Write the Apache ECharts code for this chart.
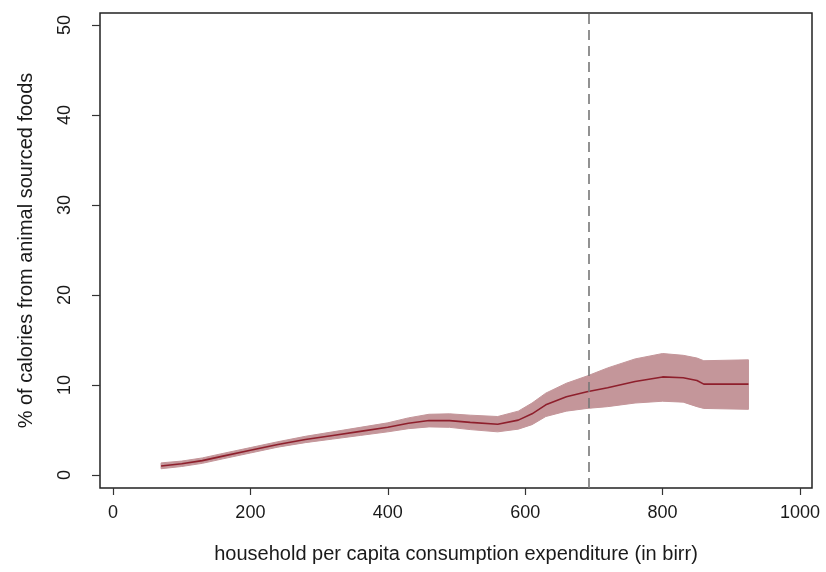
<!DOCTYPE html>
<html>
<head>
<meta charset="utf-8">
<script src="https://cdn.jsdelivr.net/npm/echarts@6/dist/echarts.min.js"></script>
<style>
  html, body { margin: 0; padding: 0; background: #fff; }
  #chart { width: 826px; height: 572px; }
</style>
</head>
<body>
<div id="chart"></div>
<script>
// Household per capita consumption expenditure (birr)
const expenditure = [70, 100, 130, 160, 200, 240, 280, 320, 360, 400, 430, 460, 490, 520, 560, 590, 610, 630, 660, 690, 720, 760, 800, 830, 850, 860, 925];
// Fitted share of calories from animal-sourced foods (%)
const fitted = [1.0, 1.25, 1.6, 2.1, 2.75, 3.4, 3.95, 4.4, 4.85, 5.3, 5.75, 6.05, 6.05, 5.85, 5.65, 6.1, 6.8, 7.8, 8.7, 9.25, 9.7, 10.4, 10.9, 10.8, 10.5, 10.1, 10.1];
// Confidence band bounds (%)
const upperCI = [1.35, 1.55, 1.9, 2.4, 3.05, 3.7, 4.3, 4.8, 5.3, 5.8, 6.35, 6.75, 6.8, 6.65, 6.5, 7.1, 8.0, 9.1, 10.2, 11.0, 11.9, 12.9, 13.5, 13.3, 13.0, 12.7, 12.8];
const lowerCI = [0.7, 0.95, 1.3, 1.8, 2.45, 3.1, 3.6, 4.0, 4.4, 4.8, 5.15, 5.35, 5.3, 5.05, 4.8, 5.1, 5.6, 6.5, 7.1, 7.4, 7.6, 8.0, 8.2, 8.1, 7.6, 7.4, 7.3];
// Reference expenditure level marked with a dashed line
const cutoff = 692;
// Tick values
const xTicks = [0, 200, 400, 600, 800, 1000];
const yTicks = [0, 10, 20, 30, 40, 50];

// Plot frame extends slightly beyond the tick range on every side
const xMin = -18.9, xMax = 1017.5;
const yMin = -1.44, yMax = 51.33;

const font = '"Liberation Sans", Arial, sans-serif';
const ink = '#1a1a1a';

const chart = echarts.init(document.getElementById('chart'), null, { renderer: 'canvas' });

// Confidence band as a single polygon: upper bound left-to-right, lower bound back
function renderBand(params, api) {
  if (params.dataIndex !== 0) return null;
  const pts = [];
  for (let i = 0; i < expenditure.length; i++) pts.push(api.coord([expenditure[i], upperCI[i]]));
  for (let i = expenditure.length - 1; i >= 0; i--) pts.push(api.coord([expenditure[i], lowerCI[i]]));
  return {
    type: 'polygon',
    shape: { points: pts },
    style: { fill: '#c4969a', stroke: '#c4969a', lineWidth: 1 }
  };
}

chart.setOption({
  animation: false,
  backgroundColor: '#ffffff',
  grid: {
    left: 100, right: 14, top: 13, bottom: 84,
    show: true, borderColor: '#222', borderWidth: 1.5, backgroundColor: '#fff'
  },
  xAxis: {
    type: 'value', min: xMin, max: xMax,
    name: 'household per capita consumption expenditure (in birr)',
    nameLocation: 'middle', nameGap: 56,
    nameTextStyle: { fontFamily: font, fontSize: 20, color: ink },
    axisLine: { show: false, onZero: false },
    splitLine: { show: false },
    axisTick: { show: true, inside: false, length: 7, customValues: xTicks, lineStyle: { color: '#333', width: 1.2 } },
    axisLabel: { customValues: xTicks, margin: 16, fontFamily: font, fontSize: 18, color: ink, formatter: v => String(v) }
  },
  yAxis: {
    type: 'value', min: yMin, max: yMax,
    name: '% of calories from animal sourced foods',
    nameLocation: 'middle', nameGap: 64,
    nameTextStyle: { fontFamily: font, fontSize: 20, color: ink },
    axisLine: { show: false, onZero: false },
    splitLine: { show: false },
    axisTick: { show: true, inside: false, length: 8, customValues: yTicks, lineStyle: { color: '#333', width: 1.2 } },
    axisLabel: { customValues: yTicks, rotate: 90, margin: 26, fontFamily: font, fontSize: 18, color: ink, formatter: v => String(v) }
  },
  series: [
    {
      name: 'band', type: 'custom', renderItem: renderBand,
      data: expenditure.map((x, i) => [x, upperCI[i], lowerCI[i]]),
      encode: { x: 0, y: [1, 2] }, silent: true, z: 1
    },
    {
      name: 'fitted', type: 'line', symbol: 'none',
      data: expenditure.map((x, i) => [x, fitted[i]]),
      lineStyle: { color: '#8e1f2c', width: 1.6 }, z: 3,
      markLine: {
        silent: true, symbol: 'none', label: { show: false },
        lineStyle: { color: '#777', type: [10, 6], width: 1.6 },
        data: [{ xAxis: cutoff }]
      }
    }
  ]
});
</script>
</body>
</html>
